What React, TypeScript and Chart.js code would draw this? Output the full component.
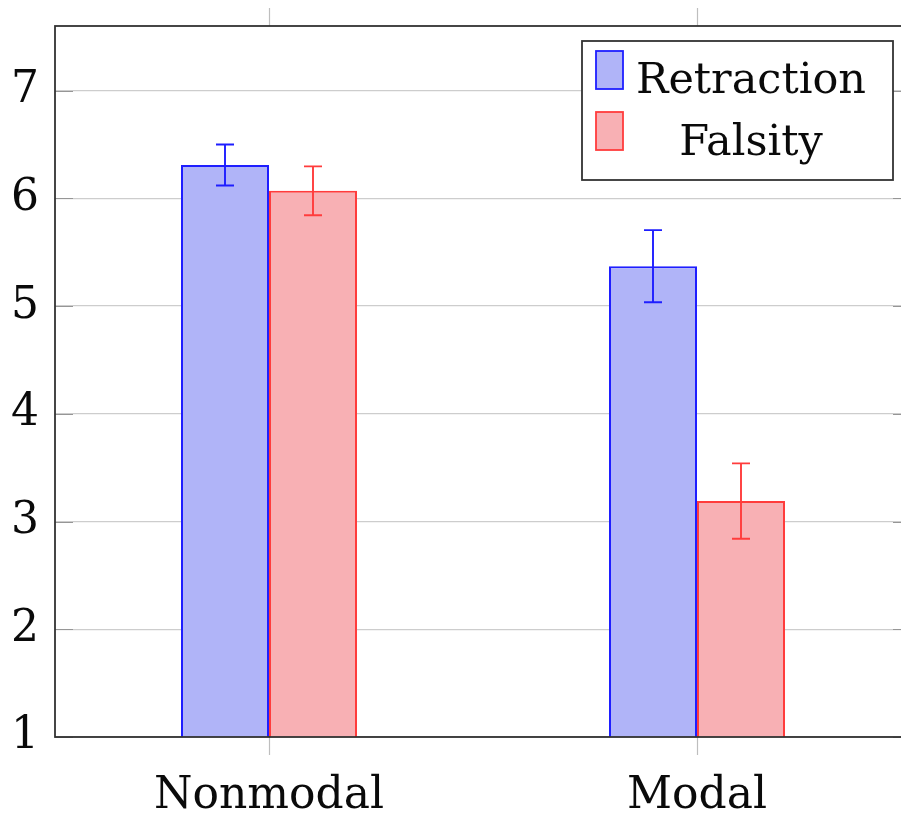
import React, { useEffect, useRef } from "react";
import { Chart, registerables } from "chart.js";

Chart.register(...registerables);

const categories = ["Nonmodal", "Modal"];
const seriesLabels = ["Retraction", "Falsity"];
const retractionValues = [6.31, 5.37];
const retractionErrors = [0.19, 0.335];
const falsityValues = [6.07, 3.19];
const falsityErrors = [0.227, 0.35];
const yMin = 1;
const yMax = 7.6;

const FONT = "'DejaVu Serif', serif";
const BLUE = "rgb(30,30,255)";
const BLUE_FILL = "rgb(176,180,248)";
const RED = "rgb(255,60,60)";
const RED_FILL = "rgb(248,176,180)";

const errors = [retractionErrors, falsityErrors];

const errorBarPlugin = {
  id: "errorBars",
  afterDatasetsDraw(chart: any) {
    const ctx = chart.ctx;
    const yScale = chart.scales.y;
    chart.data.datasets.forEach((ds: any, i: number) => {
      const meta = chart.getDatasetMeta(i);
      meta.data.forEach((el: any, j: number) => {
        const v = ds.data[j];
        const e = errors[i][j];
        const x = el.x;
        const yt = yScale.getPixelForValue(v + e);
        const yb = yScale.getPixelForValue(v - e);
        ctx.save();
        ctx.strokeStyle = ds.borderColor;
        ctx.lineWidth = 1.9;
        ctx.beginPath();
        ctx.moveTo(x, yt);
        ctx.lineTo(x, yb);
        ctx.moveTo(x - 9, yt);
        ctx.lineTo(x + 9, yt);
        ctx.moveTo(x - 9, yb);
        ctx.lineTo(x + 9, yb);
        ctx.stroke();
        ctx.restore();
      });
    });
  },
};

const framePlugin = {
  id: "frame",
  afterDraw(chart: any) {
    const ctx = chart.ctx;
    const { left, right, top, bottom } = chart.chartArea;
    const xScale = chart.scales.x;
    const yScale = chart.scales.y;
    ctx.save();
    // x ticks outside (top and bottom)
    ctx.strokeStyle = "rgb(190,190,190)";
    ctx.lineWidth = 1.2;
    categories.forEach((_, i) => {
      const x = Math.round(xScale.getPixelForValue(i)) + 0.5;
      ctx.beginPath();
      ctx.moveTo(x, top - 18);
      ctx.lineTo(x, top);
      ctx.moveTo(x, bottom);
      ctx.lineTo(x, bottom + 18);
      ctx.stroke();
    });
    // y inner ticks
    ctx.strokeStyle = "rgb(150,150,150)";
    yScale.ticks.forEach((t: any) => {
      const y = Math.round(yScale.getPixelForValue(t.value)) + 0.5;
      ctx.beginPath();
      ctx.moveTo(left, y);
      ctx.lineTo(left + 18, y);
      ctx.moveTo(right - 18, y);
      ctx.lineTo(right, y);
      ctx.stroke();
    });
    // frame
    ctx.strokeStyle = "rgb(50,50,50)";
    ctx.lineWidth = 1.8;
    ctx.strokeRect(left, top, right - left, bottom - top);

    // legend
    const bx = right - 329;
    const by = top + 15;
    const bw = 311;
    const bh = 139;
    ctx.fillStyle = "#fff";
    ctx.fillRect(bx, by, bw, bh);
    ctx.strokeStyle = "rgb(50,50,50)";
    ctx.lineWidth = 1.8;
    ctx.strokeRect(bx, by, bw, bh);
    chart.data.datasets.forEach((ds: any, i: number) => {
      const sy = by + 10 + i * 61;
      ctx.fillStyle = ds.backgroundColor;
      ctx.fillRect(bx + 14, sy, 27, 38);
      ctx.strokeStyle = ds.borderColor;
      ctx.lineWidth = 1.8;
      ctx.strokeRect(bx + 14, sy, 27, 38);
      ctx.fillStyle = "#0a0a0a";
      ctx.font = `43px ${FONT}`;
      ctx.textAlign = "center";
      ctx.textBaseline = "alphabetic";
      ctx.fillText(ds.label, bx + 169, by + 52 + i * 62);
    });
    ctx.restore();
  },
};

export default function App() {
  const ref = useRef<HTMLCanvasElement>(null);
  useEffect(() => {
    if (!ref.current) return;
    const chart = new Chart(ref.current, {
      type: "bar",
      data: {
        labels: categories,
        datasets: [
          {
            label: seriesLabels[0],
            data: retractionValues,
            backgroundColor: BLUE_FILL,
            borderColor: BLUE,
            borderWidth: 2,
          },
          {
            label: seriesLabels[1],
            data: falsityValues,
            backgroundColor: RED_FILL,
            borderColor: RED,
            borderWidth: 2,
          },
        ],
      },
      options: {
        responsive: false,
        animation: false,
        devicePixelRatio: 1,
        layout: { padding: { top: 26, right: 9, left: 0, bottom: 0 } },
        datasets: {
          bar: { categoryPercentage: 176 / 428, barPercentage: 1 },
        },
        plugins: {
          legend: { display: false },
          tooltip: { enabled: false },
        },
        scales: {
          x: {
            offset: true,
            grid: { display: false },
            border: { display: false },
            ticks: {
              color: "#0a0a0a",
              font: { family: FONT, size: 44 },
              padding: 25,
              maxRotation: 0,
            },
            afterFit: (s: any) => {
              s.height = 83;
              s.paddingLeft = 0;
              s.paddingRight = 0;
            },
          },
          y: {
            min: yMin,
            max: yMax,
            grid: { color: "rgb(205,205,205)", lineWidth: 1.2, drawTicks: false },
            border: { display: false },
            ticks: {
              stepSize: 1,
              color: "#0a0a0a",
              font: { family: FONT, size: 44, lineHeight: 1 },
              padding: 16,
            },
            afterBuildTicks: (s: any) => {
              s.ticks = s.ticks.filter((t: any) => Number.isInteger(t.value));
            },
            afterFit: (s: any) => {
              s.width = 55;
              s.paddingTop = 0;
              s.paddingBottom = 0;
            },
          },
        },
      },
      plugins: [errorBarPlugin, framePlugin],
    });
    return () => chart.destroy();
  }, []);
  return (
    <div
      style={{
        position: "fixed",
        left: 0,
        top: 0,
        width: 901,
        height: 820,
        overflow: "hidden",
        background: "#fff",
      }}
    >
      <canvas ref={ref} width={920} height={820} style={{ display: "block" }} />
    </div>
  );
}
